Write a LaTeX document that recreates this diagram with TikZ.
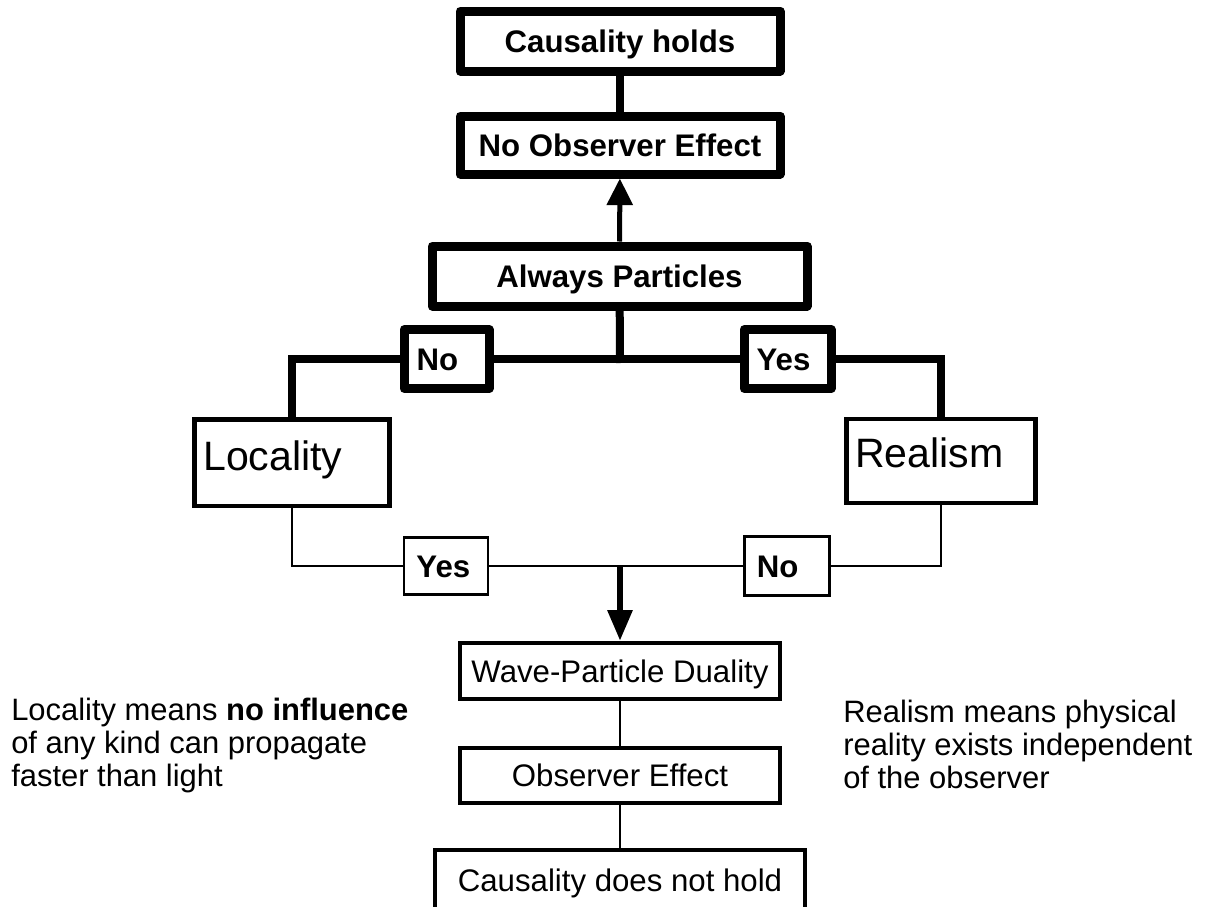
\documentclass[tikz,border=0pt]{standalone}
\usepackage{fontspec}
\setmainfont{Liberation Sans}
\usetikzlibrary{arrows.meta}
\tikzset{
  thickbox/.style={draw, line width=6.75pt, line join=round, inner sep=0pt,
    text height=16.8pt, text depth=0pt,
    font=\fontsize{23.4pt}{28pt}\selectfont\bfseries},
  midbox/.style={draw, line width=3.4pt, inner sep=0pt,
    text height=16.8pt, text depth=0pt,
    font=\fontsize{23.4pt}{28pt}\selectfont},
  thinbox/.style={draw, line width=1.9pt, inner sep=0pt,
    text height=16.8pt, text depth=0pt,
    font=\fontsize{23.4pt}{28pt}\selectfont\bfseries},
  bigtext/.style={inner sep=0pt, anchor=base west, font=\fontsize{30.8pt}{36pt}\selectfont},
  sidetext/.style={inner sep=0pt, anchor=base west, font=\fontsize{23.2pt}{27pt}\selectfont},
  thickline/.style={line width=6pt},
  thinline/.style={line width=1.5pt},
}
\begin{document}
\begin{tikzpicture}[x=0.75pt,y=-0.75pt]
\useasboundingbox (0,0) rectangle (1208,907);
\fill[white] (0,0) rectangle (1208,907);
% top column
\node[thickbox, minimum width=240pt, minimum height=45pt] (top) at (620,41) {Causality holds};
\node[thickbox, minimum width=240pt, minimum height=43.5pt] (noobs) at (620,145) {No Observer Effect};
\node[thickbox, minimum width=281.25pt, minimum height=45pt] (always) at (619.5,276) {Always Particles};
\node[thickbox, minimum width=63.75pt, minimum height=44.25pt] (nobox) at (446.5,359) {No\hspace*{13.5pt}};
\node[thickbox, minimum width=65.25pt, minimum height=44.25pt] (yesbox) at (787.5,359) {Yes\hspace*{6pt}};
% Locality / Realism
\node[midbox, minimum width=146.6pt, minimum height=64.9pt] (loc) at (292,462.5) {};
\node[bigtext] (loctext) at (203,470) {Locality};
\node[midbox, minimum width=142.1pt, minimum height=63pt] (real) at (941,461) {};
\node[bigtext] (realtext) at (855,467) {Realism};
% thin yes / no
\node[thinbox, minimum width=63pt, minimum height=42.75pt] (yes2) at (446,566) {Yes\hspace*{4pt}};
\node[thinbox, minimum width=63.75pt, minimum height=44.25pt] (no2) at (787,566) {No\hspace*{14pt}};
% bottom column
\node[midbox, minimum width=240pt, minimum height=42pt] (wave) at (620,671) {Wave-Particle Duality};
\node[midbox, minimum width=240pt, minimum height=41.25pt] (obs) at (620,775.5) {Observer Effect};
\node[midbox, minimum width=277.5pt, minimum height=45pt] (nothold) at (620,880) {Causality does not hold};
% side texts
\node[sidetext] (l1) at (11,720) {Locality means \textbf{no influence}};
\node[sidetext] (l2) at (11,753) {of any kind can propagate};
\node[sidetext] (l3) at (11,786) {faster than light};
\node[sidetext] (r1) at (843,722) {Realism means physical};
\node[sidetext] (r2) at (843,755) {reality exists independent};
\node[sidetext] (r3) at (843,788) {of the observer};
% connectors
\coordinate (j1) at (620,359);
\coordinate (j2) at (620,566);
\draw[thickline] (top) -- (noobs);
\draw[line width=3.75pt, -{Triangle[length=20pt,width=19pt]}] (always) -- (noobs);
\draw[thickline, line cap=rect] (always) -- (j1);
\draw[thickline] (nobox) -- (yesbox);
\draw[thickline] (nobox) -| (loc);
\draw[thickline] (yesbox) -| (real);
\draw[thinline] (loc) |- (yes2);
\draw[thinline] (yes2) -- (no2);
\draw[thinline] (no2) -| (real);
\draw[line width=4.5pt, -{Triangle[length=23pt,width=18pt]}] (j2) -- (wave);
\draw[thinline] (wave) -- (obs);
\draw[thinline] (obs) -- (nothold);
\end{tikzpicture}
\end{document}
